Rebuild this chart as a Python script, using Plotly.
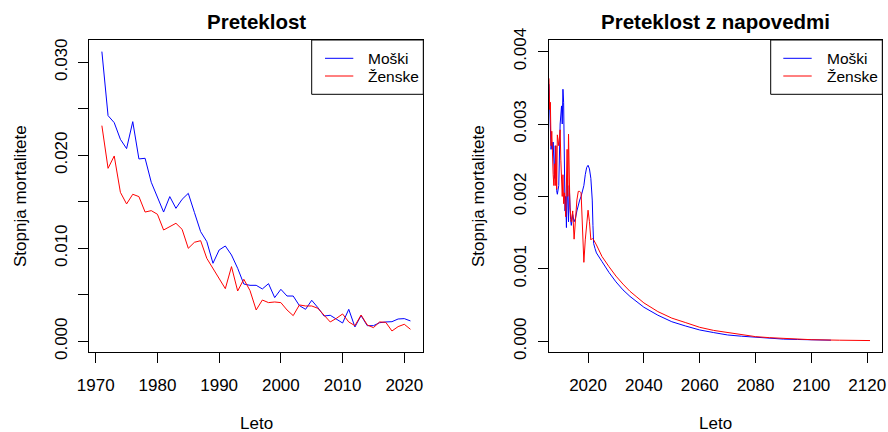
import plotly.graph_objects as go

# ---------------- data: left panel (past) ----------------
leta = list(range(1971, 2022))
moski = [0.03115, 0.02427, 0.02351, 0.02172, 0.02072, 0.02362, 0.01961, 0.01968, 0.01710, 0.01556,
         0.01390, 0.01556, 0.01430, 0.01527, 0.01591, 0.01384, 0.01179, 0.01072, 0.00839, 0.00982,
         0.01025, 0.00928, 0.00785, 0.00616, 0.00602, 0.00602, 0.00563, 0.00620, 0.00470, 0.00559,
         0.00487, 0.00487, 0.00384, 0.00344, 0.00441, 0.00362, 0.00272, 0.00280, 0.00237, 0.00197,
         0.00344, 0.00154, 0.00276, 0.00168, 0.00168, 0.00200, 0.00208, 0.00211, 0.00240, 0.00244,
         0.00219]
zenske = [0.02319, 0.01860, 0.01993, 0.01602, 0.01477, 0.01581, 0.01556, 0.01390, 0.01405, 0.01366,
          0.01197, 0.01233, 0.01269, 0.01204, 0.01000, 0.01065, 0.01082, 0.00892, 0.00785, 0.00688,
          0.00566, 0.00803, 0.00541, 0.00667, 0.00545, 0.00337, 0.00444, 0.00416, 0.00423, 0.00416,
          0.00337, 0.00276, 0.00391, 0.00380, 0.00380, 0.00355, 0.00283, 0.00208, 0.00247, 0.00294,
          0.00208, 0.00168, 0.00283, 0.00176, 0.00147, 0.00208, 0.00204, 0.00111, 0.00158, 0.00183,
          0.00129]

# ---------------- data: right panel (past + forecast) ----------------
leta_napoved_m = [2006.0, 2006.25, 2006.5, 2006.75, 2007.0, 2007.25, 2007.5, 2007.75, 2008.0, 2008.25,
                  2008.5, 2008.75, 2009.0, 2009.5, 2010.0, 2010.5, 2010.75, 2011.0, 2011.25, 2011.5,
                  2011.75, 2012.0, 2012.25, 2012.5, 2012.75, 2013.0, 2013.25, 2013.5, 2013.75, 2014.0,
                  2014.5, 2015.0, 2015.5, 2016.0, 2016.5, 2017.0, 2017.5, 2018.0, 2018.5, 2019.0,
                  2019.5, 2020.0, 2020.5, 2021.0, 2021.5, 2021.75, 2022.0,
                  2022.5, 2023, 2025, 2027.5, 2030, 2032.5, 2035, 2037.5, 2040, 2045, 2050, 2055,
                  2060, 2065, 2070, 2075, 2080, 2085, 2090, 2095, 2100, 2107]
napoved_m = [0.00355, 0.00330, 0.00300, 0.00265, 0.00275, 0.00265, 0.00275, 0.00240, 0.00225, 0.00270,
             0.00215, 0.00208, 0.00203, 0.00215, 0.00300, 0.00325, 0.00300, 0.00348, 0.00330, 0.00240,
             0.00180, 0.00200, 0.00157, 0.00225, 0.00200, 0.00165, 0.00215, 0.00180, 0.00168, 0.00160,
             0.00175, 0.00165, 0.00170, 0.00180, 0.00190, 0.00195, 0.00200, 0.00207, 0.00215, 0.00230,
             0.00240, 0.00243, 0.00238, 0.00225, 0.00195, 0.00160, 0.00135,
             0.00128, 0.00122, 0.00110, 0.00095, 0.00082, 0.00071, 0.00062, 0.00054, 0.00047, 0.00036,
             0.00027, 0.00021, 0.000156, 0.00012, 0.000087, 0.00007, 0.000055, 0.00004, 0.00003,
             0.000025, 0.00002, 0.000015]

leta_napoved_z = [2006.0, 2006.25, 2006.5, 2006.75, 2007.0, 2007.25, 2007.5, 2007.75, 2008.0, 2008.25,
                  2008.5, 2008.75, 2009.0, 2009.5, 2010.0, 2010.25, 2010.5, 2010.75, 2011.0, 2011.25,
                  2011.5, 2012.0, 2012.5, 2012.75, 2013.0, 2013.25, 2013.5, 2014.0, 2014.5, 2015.0,
                  2015.5, 2016.0, 2016.5, 2017.0, 2017.5, 2018.0, 2018.5, 2019.0, 2019.5, 2020.0,
                  2020.5, 2021.0, 2021.5, 2022.0,
                  2023, 2025, 2027.5, 2030, 2032.5, 2035, 2037.5, 2040, 2045, 2050, 2055, 2060, 2065,
                  2070, 2075, 2080, 2085, 2090, 2095, 2100, 2110, 2121]
napoved_z = [0.00363, 0.00320, 0.00330, 0.00270, 0.00290, 0.00250, 0.00230, 0.00215, 0.00245, 0.00215,
             0.00270, 0.00210, 0.00285, 0.00270, 0.00292, 0.00250, 0.00220, 0.00200, 0.00230, 0.00190,
             0.00205, 0.00172, 0.00265, 0.00200, 0.00286, 0.00240, 0.00185, 0.00165, 0.00180, 0.00141,
             0.00175, 0.00195, 0.00207, 0.00207, 0.00205, 0.00150, 0.00109, 0.00140, 0.00165, 0.00181,
             0.00165, 0.00140, 0.00142, 0.00140,
             0.00133, 0.00117, 0.00103, 0.00090, 0.00079, 0.00069, 0.00061, 0.00053, 0.00041, 0.00032,
             0.000257, 0.000193, 0.00015, 0.00012, 0.000085, 0.000064, 0.00005, 0.00004, 0.00003,
             0.000022, 0.000015, 0.00001]

# tick definitions
x1_ticks = [1970, 1980, 1990, 2000, 2010, 2020]
y1_ticks = [0.000, 0.005, 0.010, 0.015, 0.020, 0.025, 0.030]
y1_text = ["0.000", "", "0.010", "", "0.020", "", "0.030"]
x2_ticks = [2020, 2040, 2060, 2080, 2100, 2120]
y2_ticks = [0.000, 0.001, 0.002, 0.003, 0.004]
y2_text = ["0.000", "0.001", "0.002", "0.003", "0.004"]
legend_labels = ["Moški", "Ženske"]

W, H = 888, 432
FONT = "Liberation Sans, Arial, sans-serif"
BLUE, RED = "#0000FF", "#FF0000"
FS = 17

fig = go.Figure()
fig.add_trace(go.Scatter(x=leta, y=moski, mode="lines", name=legend_labels[0],
                         line=dict(color=BLUE, width=1), xaxis="x", yaxis="y"))
fig.add_trace(go.Scatter(x=leta, y=zenske, mode="lines", name=legend_labels[1],
                         line=dict(color=RED, width=1), xaxis="x", yaxis="y"))
fig.add_trace(go.Scatter(x=leta_napoved_m, y=napoved_m, mode="lines", name=legend_labels[0],
                         line=dict(color=BLUE, width=1), xaxis="x2", yaxis="y2"))
fig.add_trace(go.Scatter(x=leta_napoved_z, y=napoved_z, mode="lines", name=legend_labels[1],
                         line=dict(color=RED, width=1), xaxis="x2", yaxis="y2"))

# plot box positions in px
L1, R1 = 89.3, 423.3
L2, R2 = 548.7, 882.3
T, B = 40.0, 352.0

def px(v):
    return v / W

def py(v):
    return 1 - v / H

axis_common = dict(showline=True, linecolor="black", linewidth=1, mirror=True,
                   ticks="outside", ticklen=10, tickcolor="black", tickwidth=1,
                   showgrid=False, zeroline=False, automargin=False,
                   tickfont=dict(family=FONT, size=FS, color="black"))

fig.update_layout(
    width=W, height=H,
    margin=dict(l=0, r=0, t=0, b=0),
    paper_bgcolor="white", plot_bgcolor="white",
    font=dict(family=FONT, size=FS, color="black"),
    showlegend=False,
    xaxis=dict(domain=[px(L1), px(R1)], range=[1968.96, 2023.08], tickvals=x1_ticks,
               anchor="y", ticklabelstandoff=8, **axis_common),
    yaxis=dict(domain=[py(B), py(T)], range=[-0.00115, 0.0324], tickvals=y1_ticks,
               ticktext=y1_text, tickangle=-90, anchor="x", ticklabelstandoff=5, **axis_common),
    xaxis2=dict(domain=[px(L2), px(R2)], range=[2005.9, 2125.4], tickvals=x2_ticks,
                anchor="y2", ticklabelstandoff=8, **axis_common),
    yaxis2=dict(domain=[py(B), py(T)], range=[-0.000148, 0.00416], tickvals=y2_ticks,
                ticktext=y2_text, tickangle=-90, anchor="x2", ticklabelstandoff=5, **axis_common),
)

annots = [
    dict(text="<b>Preteklost</b>", x=px((L1 + R1) / 2), y=py(21), font=dict(size=20.5)),
    dict(text="<b>Preteklost z napovedmi</b>", x=px((L2 + R2) / 2), y=py(21), font=dict(size=20.5)),
    dict(text="Leto", x=px((L1 + R1) / 2), y=py(423), font=dict(size=FS)),
    dict(text="Leto", x=px((L2 + R2) / 2), y=py(423), font=dict(size=FS)),
    dict(text="Stopnja mortalitete", x=px(20), y=py((T + B) / 2), textangle=-90, font=dict(size=FS)),
    dict(text="Stopnja mortalitete", x=px(478), y=py((T + B) / 2), textangle=-90, font=dict(size=FS)),
]

# legends (R-style boxed legend in the top-right corner of each panel)
shapes = []
for (box_l, box_r, line_l, line_r, text_l) in [(311.7, R1, 325.0, 353.3, 365.7),
                                                (770.7, R2, 783.3, 811.7, 825.0)]:
    shapes.append(dict(type="rect", xref="paper", yref="paper",
                       x0=px(box_l), x1=px(box_r), y0=py(94.3), y1=py(T),
                       line=dict(color="black", width=1), fillcolor="white", layer="above"))
    for yy, col, lab in [(58.3, BLUE, legend_labels[0]), (76.0, RED, legend_labels[1])]:
        shapes.append(dict(type="line", xref="paper", yref="paper",
                           x0=px(line_l), x1=px(line_r), y0=py(yy), y1=py(yy),
                           line=dict(color=col, width=1), layer="above"))
        annots.append(dict(text=lab, x=px(text_l), y=py(yy), xanchor="left",
                           font=dict(size=15.5)))

for a in annots:
    a.setdefault("xanchor", "center")
    a.update(xref="paper", yref="paper", showarrow=False, yanchor="middle")
    a["font"].update(family=FONT, color="black")
fig.update_layout(annotations=annots, shapes=shapes)

fig.write_html("out.html")
